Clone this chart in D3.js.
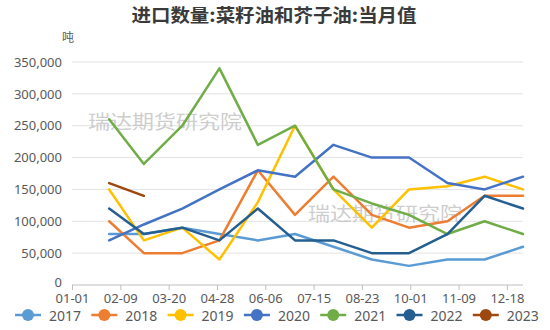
<!DOCTYPE html>
<html><head><meta charset="utf-8">
<script src="https://cdn.jsdelivr.net/npm/d3@7"></script>
<style>html,body{margin:0;padding:0;background:#fff;}svg{display:block;}</style>
</head><body>
<svg id="chart" width="550" height="330"></svg>
<script>
const titleText = "进口数量:菜籽油和芥子油:当月值";
const unitText = "吨";
const watermarkText = "瑞达期货研究院";
const xTickLabels = ["01-01","02-09","03-20","04-28","06-06","07-15","08-23","10-01","11-09","12-18"];
const pointDates = ["01-31","02-28","03-31","04-30","05-31","06-30","07-31","08-31","09-30","10-31","11-30","12-31"];
const yTicks = [0,50000,100000,150000,200000,250000,300000,350000];
const seriesNames = ["2017","2018","2019","2020","2021","2022","2023"];
const seriesColors = ["#5B9BD5","#ED7D31","#FFC000","#4472C4","#70AD47","#255E91","#9E480E"];
const v2017 = [80000,80000,90000,80000,70000,80000,60000,40000,30000,40000,40000,60000];
const v2018 = [100000,50000,50000,70000,180000,110000,170000,110000,90000,100000,140000,140000];
const v2019 = [150000,70000,90000,40000,130000,250000,150000,90000,150000,155000,170000,150000];
const v2020 = [70000,95000,120000,150000,180000,170000,220000,200000,200000,160000,150000,170000];
const v2021 = [260000,190000,250000,340000,220000,250000,150000,128000,110000,80000,100000,80000];
const v2022 = [120000,80000,90000,70000,120000,70000,70000,50000,50000,80000,140000,120000];
const v2023 = [160000,140000];
const seriesValues = [v2017,v2018,v2019,v2020,v2021,v2022,v2023];

const YEAR = 2021;
const parseMD = s => { const [m,d] = s.split("-").map(Number); return new Date(YEAR, m-1, d); };

const svg = d3.select("#chart");
const font = "'Noto Sans','Noto Sans CJK SC',sans-serif";

const x = d3.scaleTime().domain([new Date(YEAR,0,1), new Date(YEAR,11,31)]).range([72, 523]);
const y = d3.scaleLinear().domain([0, 350000]).range([285, 62]);

// gridlines
svg.append("g").selectAll("line").data(yTicks.filter(d=>d>0)).join("line")
  .attr("x1", 72).attr("x2", 523)
  .attr("y1", d=>y(d)).attr("y2", d=>y(d))
  .attr("stroke", "#e3e3e3").attr("stroke-width", 1);

// y axis labels
const yAxis = d3.axisLeft(y).tickValues(yTicks).tickSize(0).tickPadding(0)
  .tickFormat(d3.format(","));
const yg = svg.append("g").attr("transform","translate(62,0)").call(yAxis);
yg.select(".domain").remove();
yg.selectAll("text").attr("fill","#595959").attr("font-size", 13).attr("font-family", font);
yg.selectAll(".tick").filter(d=>d===0).select("text").attr("dy","0.08em");

// x axis
const xAxis = d3.axisBottom(x).tickValues(xTickLabels.map(parseMD))
  .tickSize(5).tickPadding(4).tickFormat((d,i)=>xTickLabels[i]);
const xg = svg.append("g").attr("transform","translate(0,285)").call(xAxis);
xg.select(".domain").attr("stroke","#bfbfbf").attr("d","M72,0H523");
xg.selectAll(".tick line").attr("stroke","#bfbfbf");
xg.selectAll("text").attr("fill","#595959").attr("font-size", 13).attr("font-family", font);

// unit
svg.append("text").attr("x", 68).attr("y", 42).attr("text-anchor","middle")
  .attr("font-size", 12).attr("fill","#595959").attr("font-family","'Noto Sans CJK SC',sans-serif")
  .text(unitText);

// watermarks
const wm = [[88,120],[308,212]];
svg.append("g").selectAll("text").data(wm).join("text")
  .attr("x", d=>d[0]).attr("y", d=>d[1]).attr("dominant-baseline","central")
  .attr("font-size", 19).attr("fill","#bdbdbd").attr("fill-opacity",0.75)
  .attr("font-family","'Noto Sans CJK SC',sans-serif")
  .attr("textLength",154).attr("lengthAdjust","spacingAndGlyphs")
  .text(watermarkText);

// lines
const line = d3.line().x((d,i)=>x(parseMD(pointDates[i]))).y(d=>y(d));
svg.append("g").selectAll("path").data(seriesValues).join("path")
  .attr("d", d=>line(d)).attr("fill","none")
  .attr("stroke",(d,i)=>seriesColors[i]).attr("stroke-width",2.5)
  .attr("stroke-linejoin","round").attr("stroke-linecap","round");

// title
svg.append("text").attr("x", 274).attr("y", 14).attr("text-anchor","middle")
  .attr("dominant-baseline","central")
  .attr("font-size", 18.5).attr("font-weight","bold").attr("fill","#3a3a3a")
  .attr("font-family","'Noto Sans CJK SC',sans-serif")
  .attr("textLength",285).attr("lengthAdjust","spacingAndGlyphs")
  .text(titleText);

// legend
const lg = svg.append("g").selectAll("g").data(seriesNames).join("g")
  .attr("transform",(d,i)=>`translate(${28 + i*76.3},315)`);
lg.append("line").attr("x1",-13).attr("x2",13).attr("y1",0).attr("y2",0)
  .attr("stroke",(d,i)=>seriesColors[i]).attr("stroke-width",2.5);
lg.append("circle").attr("r",6).attr("fill",(d,i)=>seriesColors[i]);
lg.append("text").attr("x",21).attr("y",0).attr("dominant-baseline","central")
  .attr("font-size",14).attr("fill","#595959").attr("font-family",font).text(d=>d);
</script>
</body></html>
